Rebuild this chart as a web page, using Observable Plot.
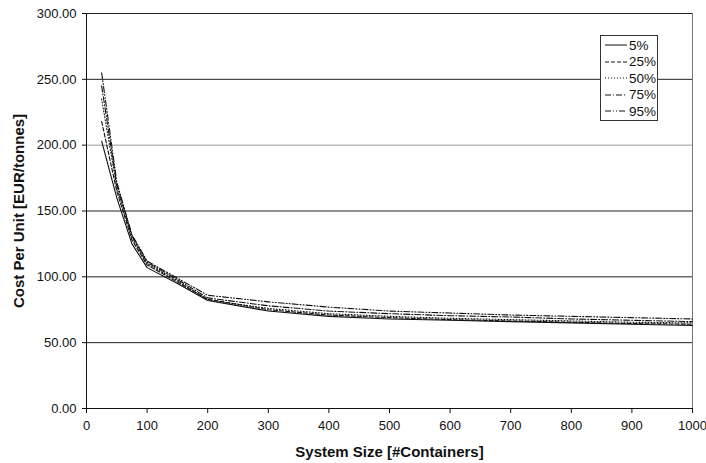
<!DOCTYPE html>
<html><head><meta charset="utf-8">
<script src="https://cdn.jsdelivr.net/npm/d3@7"></script>
<script src="https://cdn.jsdelivr.net/npm/@observablehq/plot@0.6"></script>
<style>
body{margin:0;background:#fff;font-family:"Liberation Sans",Arial,sans-serif;}
#wrap{position:relative;width:706px;height:463px;}
#legend{position:absolute;left:600px;top:35px;width:56px;height:84px;border:1px solid #333;background:#fff;font-size:13.5px;color:#111;}
#legend .row{position:absolute;left:3px;height:16px;display:flex;align-items:center;}
#legend svg{margin-right:1px;}
g[aria-label="y-axis label"] text, g[aria-label="x-axis label"] text{font-weight:bold;font-size:15px;}
</style></head>
<body><div id="wrap"><div id="chart"></div><div id="legend"></div></div>
<script>
const sizes = [25, 50, 75, 100, 150, 200, 300, 400, 500, 600, 700, 800, 900, 1000];
const seriesNames = ["5%", "25%", "50%", "75%", "95%"];
const p5  = [203, 160, 125, 107, 95, 82, 74, 70, 68, 67, 66, 65, 64, 63];
const p25 = [218, 165, 128, 109, 96, 83, 75, 71, 69, 67.5, 66.5, 65.5, 64.5, 64];
const p50 = [235, 168, 130, 110, 97, 82.5, 76, 72, 70, 68.5, 67.5, 66.5, 65.5, 65];
const p75 = [245, 170, 131, 111, 98, 84, 78, 74, 72, 70.5, 69.5, 68, 67, 66];
const p95 = [255, 172, 132, 112, 99, 86, 81, 77, 74, 72.5, 71, 70, 69, 68];
const yTicks = [0, 50, 100, 150, 200, 250, 300];
const xTicks = [0, 100, 200, 300, 400, 500, 600, 700, 800, 900, 1000];

const allSeries = [p5, p25, p50, p75, p95];
const dashes = ["none", "4,2", "1,2", "6,2,1,2", "6,2,1,2,1,2"];
const data = [];
seriesNames.forEach((s, i) => sizes.forEach((x, j) => data.push({s, x, y: allSeries[i][j]})));

const marks = [
  Plot.ruleY(yTicks.filter(d => d > 0 && d !== 200), {stroke: "#222", strokeWidth: 1}),
  Plot.ruleY([200], {stroke: "#999", strokeWidth: 1}),
  Plot.ruleX([1000], {stroke: "#777"}),
  ...seriesNames.map((s, i) => Plot.line(data.filter(d => d.s === s), {x: "x", y: "y", stroke: "#111", strokeWidth: 1.1, strokeDasharray: dashes[i]})),
  Plot.ruleX([0], {stroke: "#111"}),
  Plot.ruleY([0], {stroke: "#111"}),
  Plot.axisY({ticks: yTicks, tickFormat: d => d.toFixed(2), tickSize: 4, tickPadding: 6, fontSize: 13, label: "Cost Per Unit [EUR/tonnes]", labelAnchor: "center", labelArrow: "none", labelOffset: 73}),
  Plot.axisX({ticks: xTicks, tickFormat: d => String(d), tickSize: 5, tickPadding: 7, fontSize: 13, label: "System Size [#Containers]", labelAnchor: "center", labelArrow: "none", labelOffset: 48})
];

const chart = Plot.plot({
  width: 706, height: 463,
  marginLeft: 86, marginRight: 14, marginTop: 13, marginBottom: 55,
  style: {fontFamily: "'Liberation Sans', Arial, sans-serif", fontSize: "13px", color: "#111", background: "#fff"},
  x: {domain: [0, 1000]},
  y: {domain: [0, 300]},
  marks
});
document.getElementById("chart").appendChild(chart);

const leg = document.getElementById("legend");
seriesNames.forEach((s, i) => {
  const row = document.createElement("div");
  row.className = "row";
  row.style.top = (1 + i * 16.5) + "px";
  row.innerHTML = `<svg width="24" height="10"><line x1="1" x2="23" y1="5" y2="5" stroke="#111" stroke-width="1" stroke-dasharray="${dashes[i]}"/></svg><span>${s}</span>`;
  leg.appendChild(row);
});
</script></body></html>
